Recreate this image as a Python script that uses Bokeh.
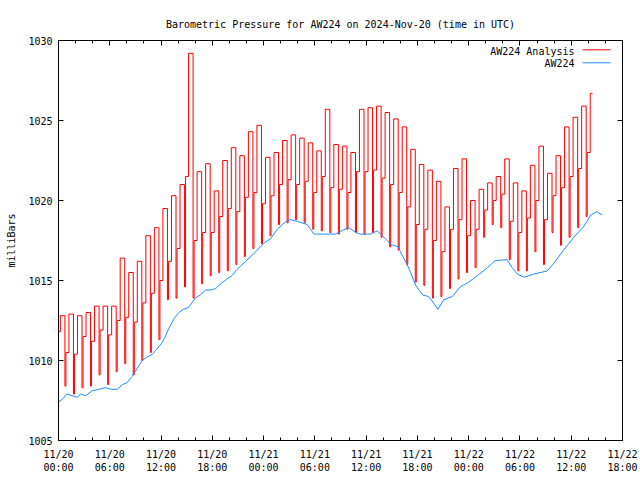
import numpy as np
from bokeh.plotting import figure
from bokeh.models import LinearAxis, FixedTicker, Range1d, Label, Arrow
from bokeh.embed import file_html
from bokeh.resources import INLINE

TITLE = "Barometric Pressure for AW224 on 2024-Nov-20 (time in UTC)"
Y_LABEL = "milliBars"
SERIES_NAMES = ["AW224 Analysis", "AW224"]

# x axis: hours since 2024-11-20 00:00 UTC
x_tick_hours = [0, 6, 12, 18, 24, 30, 36, 42, 48, 54, 60, 66]
x_tick_dates = ["11/20", "11/20", "11/20", "11/20", "11/21", "11/21",
                "11/21", "11/21", "11/22", "11/22", "11/22", "11/22"]
x_tick_times = ["00:00", "06:00", "12:00", "18:00"] * 3
x_minor_hours = list(range(0, 67, 2))
y_ticks = [1005, 1010, 1015, 1020, 1025, 1030]

# AW224 observed pressure (hours, mb)
blue_t = [0.0, 0.5, 1.0, 1.6, 2.2, 2.6, 3.2, 3.9, 4.7, 5.5, 6.2, 6.9, 7.5, 8.0,
          8.6, 9.2, 9.8, 10.3, 11.0, 11.5, 12.1, 12.5, 12.9, 13.5, 14.1, 14.6,
          15.2, 16.0, 16.6, 17.2, 17.8, 18.4, 19.0, 19.7, 20.3, 20.9, 21.3, 21.9,
          22.5, 23.1, 23.6, 24.2, 24.8, 25.6, 26.2, 26.8, 27.2, 27.9, 29.1, 29.9,
          31.0, 32.4, 33.1, 34.0, 34.8, 35.3, 36.5, 37.3, 38.1, 38.9, 39.8, 40.0,
          40.8, 41.2, 41.8, 42.6, 43.3, 43.9, 44.4, 45.1, 46.1, 47.0, 48.0, 49.0,
          50.2, 51.1, 52.5, 53.1, 53.7, 54.5, 55.6, 57.2, 58.0, 59.1, 60.3, 61.5,
          62.3, 63.0, 63.6]
blue_v = [1007.4, 1007.6, 1007.9, 1007.8, 1007.7, 1007.9, 1007.8, 1008.1, 1008.2,
          1008.3, 1008.2, 1008.2, 1008.5, 1008.6, 1009.0, 1009.5, 1010.0, 1010.2,
          1010.4, 1010.7, 1011.1, 1011.5, 1012.0, 1012.6, 1013.0, 1013.2, 1013.3,
          1013.9, 1014.1, 1014.4, 1014.4, 1014.5, 1014.8, 1015.1, 1015.3, 1015.7,
          1015.9, 1016.2, 1016.5, 1016.8, 1017.1, 1017.4, 1017.6, 1018.2, 1018.5,
          1018.75, 1018.8, 1018.7, 1018.5, 1017.9, 1017.9, 1017.9, 1018.1, 1018.3,
          1018.0, 1017.9, 1017.9, 1018.1, 1017.7, 1017.25, 1017.1, 1016.8, 1016.0,
          1015.5, 1014.7, 1014.1, 1014.0, 1013.6, 1013.2, 1013.8, 1014.0, 1014.6,
          1014.9, 1015.3, 1015.8, 1016.25, 1016.3, 1015.8, 1015.4, 1015.2, 1015.4,
          1015.6, 1016.1, 1016.9, 1017.7, 1018.4, 1019.1, 1019.3, 1019.1]

# AW224 Analysis: one saw-tooth per hourly analysis (brief low, mid step, top)
red_low = [1010.4, 1008.4, 1007.9, 1008.3, 1008.4, 1009.1, 1008.5, 1009.3, 1009.8,
           1009.1, 1010.0, 1010.5, 1011.3, 1013.8, 1013.9, 1014.6, 1013.9, 1014.8,
           1015.3, 1015.5, 1015.6, 1016.0, 1016.5, 1017.0, 1017.3, 1017.8, 1018.5,
           1018.6, 1018.8, 1018.6, 1018.2, 1018.1, 1018.0, 1017.9, 1018.2, 1018.0,
           1017.9, 1018.0, 1017.7, 1017.1, 1016.9, 1016.0, 1014.9, 1014.7, 1013.9,
           1014.0, 1014.5, 1015.1, 1015.5, 1015.8, 1017.7, 1018.5, 1018.3, 1016.3,
           1015.6, 1015.6, 1016.8, 1016.0, 1018.0, 1017.2, 1017.7, 1018.3, 1019.0]
red_mid = [1011.8, 1010.5, 1010.4, 1011.5, 1011.2, 1011.9, 1011.6, 1012.5, 1012.7,
           1012.4, 1013.6, 1014.2, 1015.0, 1016.2, 1017.0, 1021.5, 1017.5, 1018.0,
           1018.0, 1019.0, 1019.5, 1019.3, 1020.2, 1020.5, 1019.8, 1020.3, 1021.0,
           1021.3, 1021.0, 1021.2, 1020.5, 1021.5, 1020.8, 1020.7, 1020.5, 1021.8,
           1021.8, 1021.9, 1021.4, 1021.0, 1020.5, 1019.6, 1018.5, 1018.2, 1017.5,
           1016.8, 1018.2, 1018.8, 1017.8, 1018.2, 1019.4, 1020.0, 1020.4, 1018.7,
           1018.0, 1018.9, 1020.0, 1018.8, 1020.3, 1020.8, 1021.5, 1022.0, 1023.0]
red_high = [1012.8, 1012.9, 1012.8, 1013.0, 1013.4, 1013.4, 1013.4, 1016.4, 1015.5,
            1016.2, 1017.8, 1018.3, 1019.5, 1020.3, 1021.0, 1029.2, 1021.8, 1022.3,
            1020.6, 1022.5, 1023.3, 1022.8, 1024.3, 1024.7, 1022.7, 1023.0, 1023.75,
            1024.1, 1023.9, 1023.6, 1023.1, 1025.7, 1023.5, 1023.4, 1023.0, 1025.7,
            1025.8, 1025.9, 1025.5, 1025.1, 1024.6, 1023.2, 1022.25, 1021.9, 1021.2,
            1019.6, 1022.0, 1022.6, 1020.0, 1020.7, 1021.1, 1021.5, 1022.6, 1021.1,
            1020.6, 1022.2, 1023.4, 1021.7, 1022.8, 1024.6, 1025.2, 1025.9, 1026.7]
red_last_hour = 62.5

# stair-step path: each tooth = short low step, mid step, then top plateau
red_t, red_v = [], []
for n, (lo, mi, hi) in enumerate(zip(red_low, red_mid, red_high)):
    end = min(n + 0.75, red_last_hour)
    for t0, t1, v in [(n - 0.25, n - 0.13, lo), (n - 0.13, n + 0.22, mi), (n + 0.22, end, hi)]:
        red_t += [t0, t1]
        red_v += [v, v]

FONT = "DejaVu Sans Mono"
FS = "10px"
RED = "#ff0000"
BLUE = "#1e8cff"

p = figure(width=640, height=480, output_backend="svg", toolbar_location=None,
           x_range=Range1d(0, 66), y_range=Range1d(1005, 1030),
           x_axis_type=None, y_axis_type=None, title=TITLE,
           min_border_left=58, min_border_right=18,
           min_border_top=40, min_border_bottom=40)
p.background_fill_color = "white"
p.border_fill_color = "white"
p.outline_line_color = "black"
p.outline_line_width = 1
p.xgrid.visible = False
p.ygrid.visible = False

p.title.text_font = FONT
p.title.text_font_size = FS
p.title.text_font_style = "normal"
p.title.text_color = "black"
p.title.align = "center"
p.title.standoff = 22

xt = FixedTicker(ticks=x_tick_hours, minor_ticks=x_minor_hours)
yt = FixedTicker(ticks=y_ticks, minor_ticks=[])


def style(ax, show_labels):
    ax.axis_line_color = "black"
    ax.major_tick_line_color = "black"
    ax.minor_tick_line_color = "black"
    ax.major_tick_in = 5
    ax.major_tick_out = 0
    ax.minor_tick_in = 3
    ax.minor_tick_out = 0
    ax.major_label_text_font = FONT
    if show_labels:
        ax.major_label_text_font_size = FS
        ax.major_label_text_color = "black"
    else:
        # mirrored tick marks only (gnuplot style box), no labels drawn
        ax.major_label_text_font_size = "1px"
        ax.major_label_text_color = None
        ax.major_label_standoff = 0


xb = LinearAxis(ticker=xt, major_label_overrides={
    h: f"{d}\n{t}" for h, d, t in zip(x_tick_hours, x_tick_dates, x_tick_times)})
style(xb, True)
xb.major_label_standoff = 8
xb.major_label_text_line_height = 1.25
p.add_layout(xb, "below")

yl = LinearAxis(ticker=yt, axis_label=Y_LABEL)
style(yl, True)
yl.major_label_standoff = 6
yl.axis_label_standoff = 8
yl.axis_label_text_font = FONT
yl.axis_label_text_font_size = FS
yl.axis_label_text_font_style = "normal"
yl.axis_label_text_color = "black"
p.add_layout(yl, "left")

xa = LinearAxis(ticker=xt)
style(xa, False)
p.add_layout(xa, "above")

yr = LinearAxis(ticker=yt)
style(yr, False)
p.add_layout(yr, "right")

p.line(red_t, red_v, line_color=RED, line_width=1)
p.line(blue_t, blue_v, line_color=BLUE, line_width=1)

# legend (label text right-aligned, sample line to its right), frame-relative px
for name, color, y_text, y_line in [(SERIES_NAMES[0], RED, 389.0, 390.7),
                                    (SERIES_NAMES[1], BLUE, 377.5, 377.7)]:
    p.add_layout(Label(x=516, y=y_text, x_units="screen", y_units="screen",
                       text=name, text_align="right", text_baseline="middle",
                       text_font=FONT, text_font_size=FS, text_color="black"))
    p.add_layout(Arrow(end=None, x_start=524, y_start=y_line, x_end=552, y_end=y_line,
                       start_units="screen", end_units="screen",
                       line_color=color, line_width=1))

open("out.html", "w").write(file_html(p, INLINE))
